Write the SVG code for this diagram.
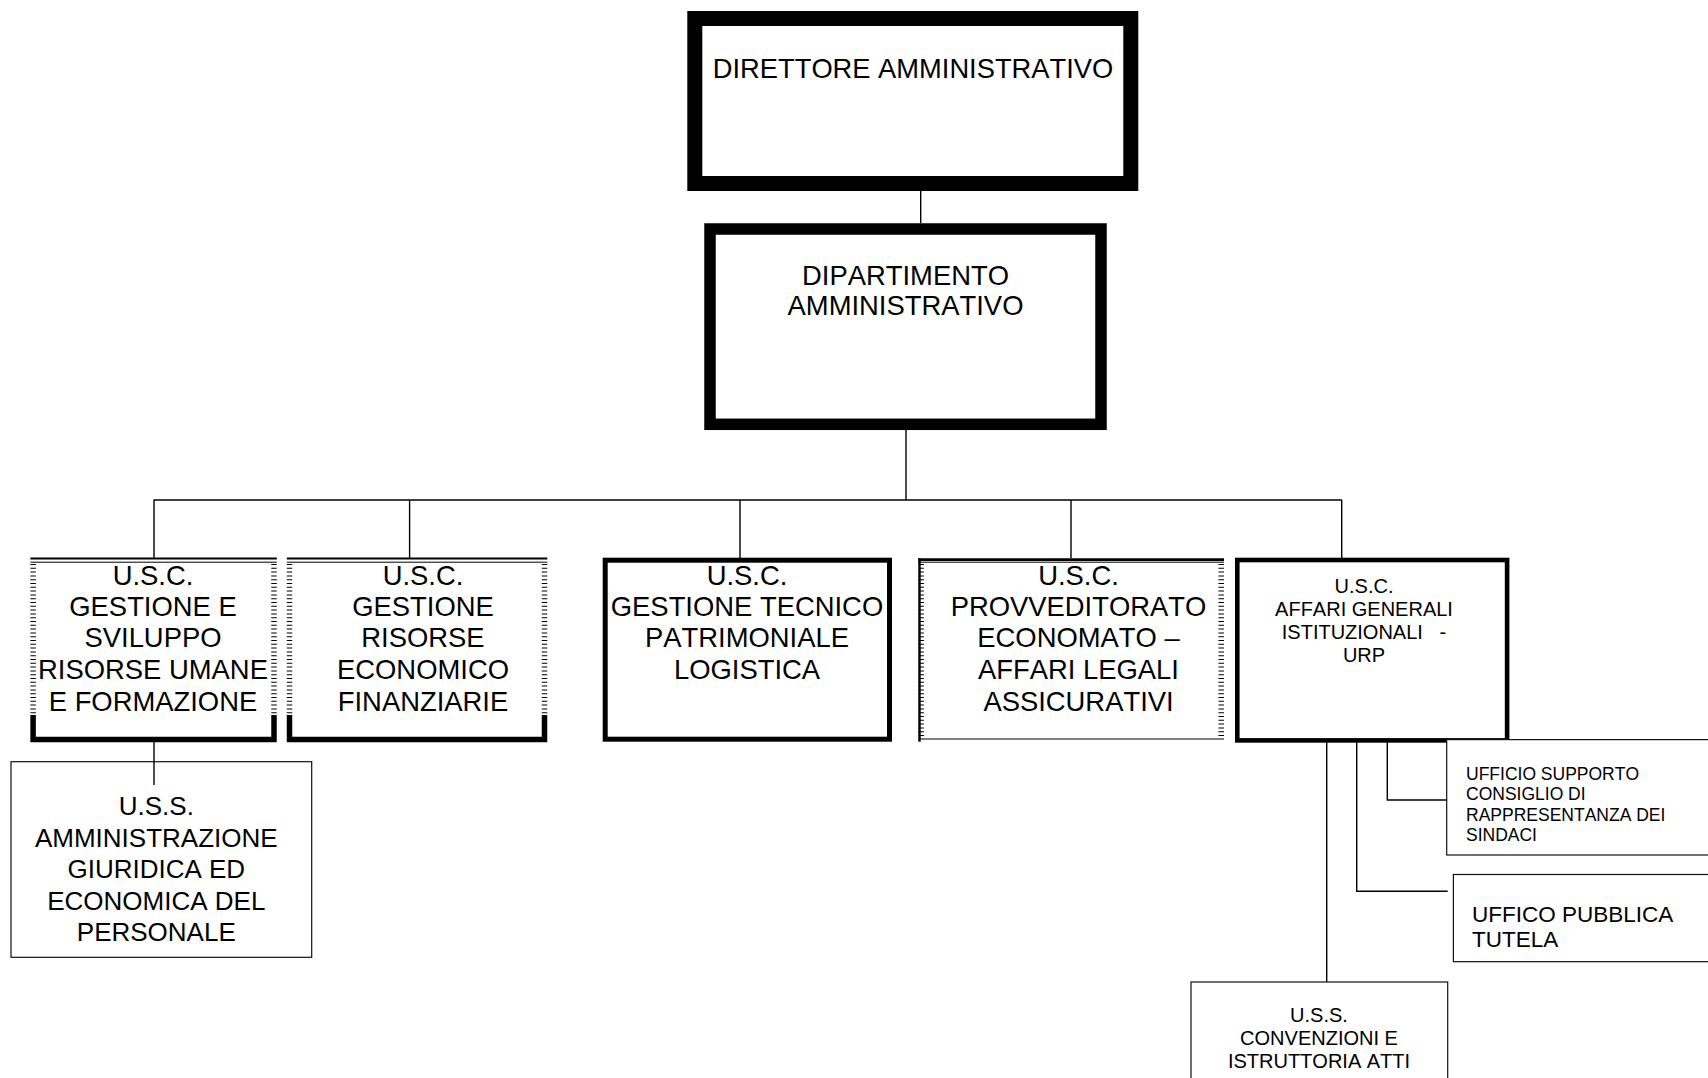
<svg xmlns="http://www.w3.org/2000/svg" width="1708" height="1078" viewBox="0 0 1708 1078">
<style>
text{font-family:"Liberation Sans",Arial,sans-serif;fill:#000;font-kerning:none}
.big{font-size:27.4px;text-anchor:middle}
.mid{font-size:20px;text-anchor:middle}
.sm{font-size:17.5px}
.conn{fill:none;stroke:#000;stroke-width:1.4}
.thin{fill:#fff;stroke:#111;stroke-width:1.2}
.ticks{stroke:#000;stroke-width:5.5;stroke-dasharray:1 2.8;fill:none}
.heavy{fill:none;stroke:#000}
</style>
<rect width="1708" height="1078" fill="#fff"/>
<g id="connectors">
<path class="conn" d="M920.7 191V223"/>
<path class="conn" d="M906 430V500"/>
<path class="conn" d="M153.6 500H1342"/>
<path class="conn" d="M154 500V558M409.6 500V558M740 500V558M1071 500V558M1341.7 500V558"/>
<path class="conn" d="M154 742V785"/>
<path class="conn" d="M1326.7 742V982"/>
<path class="conn" d="M1356.7 742V891.3H1447.7"/>
<path class="conn" d="M1387.3 742V800H1446.7"/>
</g>
<g id="direttore">
<rect class="heavy" x="694.8" y="18.5" width="436" height="165" stroke-width="15" fill="#fff"/>
<text class="big" x="913" y="78" style="font-size:27.3px">DIRETTORE AMMINISTRATIVO</text>
</g>
<g id="dipartimento">
<rect class="heavy" x="710" y="229" width="391" height="195.3" stroke-width="11.5" fill="#fff"/>
<text class="big" x="905.5" y="285">DIPARTIMENTO</text>
<text class="big" x="905.5" y="315">AMMINISTRATIVO</text>
</g>
<g id="usc-risorse-umane">
<path class="heavy" stroke-width="2" d="M30.4 558.6H276.8"/>
<path class="heavy" stroke-width="1" d="M30.4 562.2H276.8"/>
<path class="ticks" d="M33.1 564V716M274 564V716"/>
<path class="heavy" stroke-width="5.5" d="M33.1 715V739.5H274V715"/>
<text class="big" x="153" y="584.5">U.S.C.</text>
<text class="big" x="153" y="616">GESTIONE E</text>
<text class="big" x="153" y="647">SVILUPPO</text>
<text class="big" x="153" y="678.5">RISORSE UMANE</text>
<text class="big" x="153" y="710.5">E FORMAZIONE</text>
</g>
<g id="usc-risorse-economiche">
<path class="heavy" stroke-width="2" d="M286.8 558.6H547.3"/>
<path class="heavy" stroke-width="1" d="M286.8 562.2H547.3"/>
<path class="ticks" d="M289.5 564V716M544.5 564V716"/>
<path class="heavy" stroke-width="5.5" d="M289.5 715V739.5H544.5V715"/>
<text class="big" x="423" y="584.5">U.S.C.</text>
<text class="big" x="423" y="616">GESTIONE</text>
<text class="big" x="423" y="647">RISORSE</text>
<text class="big" x="423" y="678.5">ECONOMICO</text>
<text class="big" x="423" y="710.5">FINANZIARIE</text>
</g>
<g id="usc-tecnico">
<rect class="heavy" x="605.2" y="560.2" width="284.3" height="179" stroke-width="5" fill="#fff"/>
<text class="big" x="747" y="584.5">U.S.C.</text>
<text class="big" x="747" y="616">GESTIONE TECNICO</text>
<text class="big" x="747" y="647">PATRIMONIALE</text>
<text class="big" x="747" y="678.5">LOGISTICA</text>
</g>
<g id="usc-provveditorato">
<path class="heavy" stroke-width="2.6" d="M918.3 559.6H1224"/>
<path class="heavy" stroke-width="1" d="M918.3 562.2H1224"/>
<path class="heavy" stroke-width="2.4" d="M919.5 558.3V741.7"/>
<path class="ticks" d="M921.2 564V737M1221.2 564V737"/>
<path class="heavy" stroke-width="1.2" d="M918.3 739H1224"/>
<text class="big" x="1078.5" y="584.5">U.S.C.</text>
<text class="big" x="1078.5" y="616">PROVVEDITORATO</text>
<text class="big" x="1078.5" y="647">ECONOMATO –</text>
<text class="big" x="1078.5" y="678.5">AFFARI LEGALI</text>
<text class="big" x="1078.5" y="710.5">ASSICURATIVI</text>
</g>
<g id="usc-affari-generali">
<rect class="heavy" x="1237.3" y="560" width="269.8" height="180.4" stroke-width="4.6" fill="#fff"/>
<text class="mid" x="1364" y="592.7">U.S.C.</text>
<text class="mid" x="1364" y="616">AFFARI GENERALI</text>
<text class="mid" x="1364" y="639.3" style="white-space:pre">ISTITUZIONALI   -</text>
<text class="mid" x="1364" y="661.7">URP</text>
</g>
<g id="uss-amministrazione">
<rect class="thin" x="11" y="761.7" width="300.7" height="195.6"/>
<path class="conn" d="M154 761.7V785"/>
<text class="big" x="156.3" y="815" style="font-size:26px">U.S.S.</text>
<text class="big" x="156.3" y="846.5" style="font-size:26px">AMMINISTRAZIONE</text>
<text class="big" x="156.3" y="878" style="font-size:26px">GIURIDICA ED</text>
<text class="big" x="156.3" y="909.5" style="font-size:26px">ECONOMICA DEL</text>
<text class="big" x="156.3" y="940.5" style="font-size:26px">PERSONALE</text>
</g>
<g id="ufficio-supporto">
<rect class="thin" x="1446.7" y="739.6" width="280" height="115.4"/>
<text class="sm" x="1466" y="780">UFFICIO SUPPORTO</text>
<text class="sm" x="1466" y="800.3">CONSIGLIO DI</text>
<text class="sm" x="1466" y="820.6">RAPPRESENTANZA DEI</text>
<text class="sm" x="1466" y="841">SINDACI</text>
</g>
<g id="ufficio-pubblica-tutela">
<rect class="thin" x="1453.4" y="874.5" width="280" height="87.2"/>
<text x="1472" y="921.5" style="font-size:22.5px">UFFICO PUBBLICA</text>
<text x="1472" y="947" style="font-size:22.5px">TUTELA</text>
</g>
<g id="uss-convenzioni">
<rect class="thin" x="1191" y="982" width="256.7" height="120"/>
<text class="mid" x="1319" y="1022">U.S.S.</text>
<text class="mid" x="1319" y="1045">CONVENZIONI E</text>
<text class="mid" x="1319" y="1068">ISTRUTTORIA ATTI</text>
</g>
</svg>
